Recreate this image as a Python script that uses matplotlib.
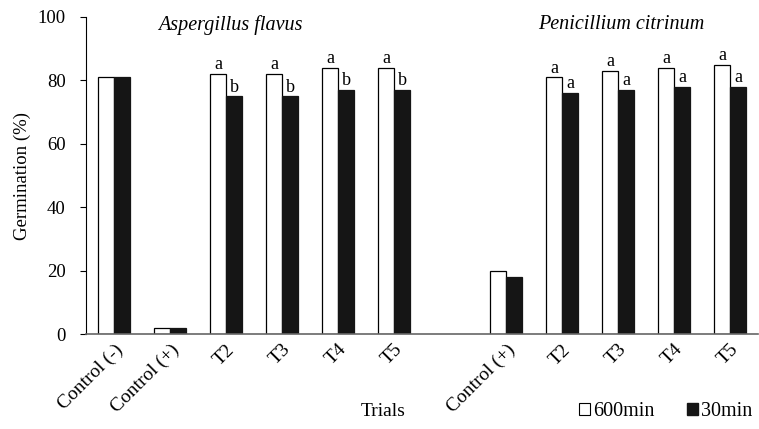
import matplotlib.pyplot as plt
from matplotlib.patches import Patch
import numpy as np

plt.rcParams['font.family'] = ['Liberation Serif', 'DejaVu Serif']

# 12 slots, slot 6 is an empty gap between the two fungi
labels = ['Control (-)', 'Control (+)', 'T2', 'T3', 'T4', 'T5',
          '', 'Control (+)', 'T2', 'T3', 'T4', 'T5']
slots = [0, 1, 2, 3, 4, 5, 7, 8, 9, 10, 11]
min600 = [81, 2, 82, 82, 84, 84, 20, 81, 83, 84, 85]
min30 = [81, 2, 75, 75, 77, 77, 18, 76, 77, 78, 78]
let600 = ['', '', 'a', 'a', 'a', 'a', '', 'a', 'a', 'a', 'a']
let30 = ['', '', 'b', 'b', 'b', 'b', '', 'a', 'a', 'a', 'a']

fig = plt.figure(figsize=(7.59, 4.29), dpi=100)
ax = fig.add_axes([0.1133, 0.2214, 0.8854, 0.739])

w = 0.285
x = np.array(slots)
ax.bar(x - w / 2, min600, width=w, color='white', edgecolor='black', linewidth=0.9)
ax.bar(x + w / 2, min30, width=w, color='#151515', edgecolor='#151515', linewidth=0.9)

for xi, v, t in zip(x, min600, let600):
    if t:
        ax.text(xi - w / 2, v + 0.2, t, ha='center', va='bottom', fontsize=13)
for xi, v, t in zip(x, min30, let30):
    if t:
        ax.text(xi + w / 2, v + 0.2, t, ha='center', va='bottom', fontsize=13)

ax.set_xlim(-0.5, 11.5)
ax.set_ylim(0, 100)
ax.set_yticks([0, 20, 40, 60, 80, 100])
ax.tick_params(axis='y', labelsize=13.5, direction='out', length=4.5, width=0.8, pad=10)
ax.set_xticks(range(12))
ax.set_xticklabels(labels, rotation=45, ha='right', rotation_mode='anchor', fontsize=14)
ax.tick_params(axis='x', length=0, pad=5)

ax.spines['top'].set_visible(False)
ax.spines['right'].set_visible(False)
ax.spines['left'].set_linewidth(0.8)
ax.spines['bottom'].set_color('#666666')
ax.spines['bottom'].set_linewidth(1.2)

ax.set_ylabel('Germination (%)', fontsize=13.5, labelpad=5)
fig.text(0.505, 0.04, 'Trials', ha='center', va='center', fontsize=14)

ax.text(2.07, 97.5, 'Aspergillus flavus', style='italic', ha='center', va='center', fontsize=14.5)
ax.text(9.05, 97.5, 'Penicillium citrinum', style='italic', ha='center', va='center', fontsize=14.5)

handles = [Patch(facecolor='white', edgecolor='black', linewidth=0.8),
           Patch(facecolor='#151515', edgecolor='#151515')]
fig.legend(handles, ['600min', '30min'], loc='center right',
           bbox_to_anchor=(1.0145, 0.04), ncol=2, frameon=False, fontsize=14.5,
           handlelength=0.55, handleheight=0.55, handletextpad=0.15, columnspacing=1.6)

fig.savefig('out.png', dpi=100)
